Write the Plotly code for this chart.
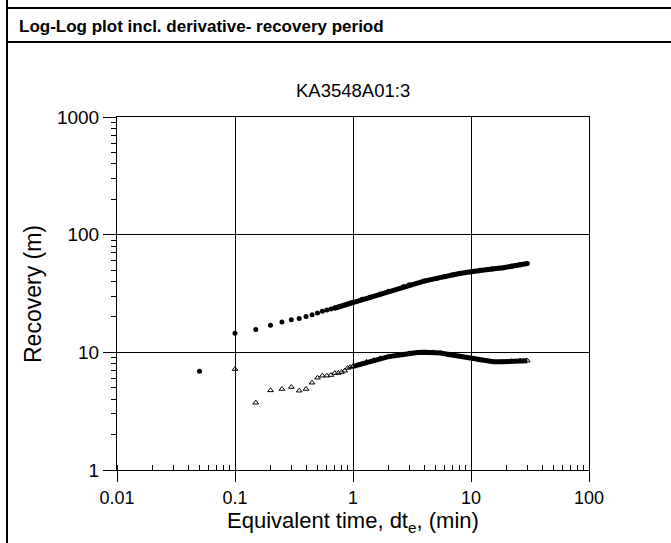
import plotly.graph_objects as go

# Recovery (filled circles) - sparse early part
rec_t_sparse = [0.05, 0.1, 0.15, 0.2, 0.25, 0.3, 0.35, 0.4, 0.45, 0.5, 0.55, 0.6, 0.65, 0.7]
rec_v_sparse = [6.9, 14.5, 15.6, 17.0, 18.1, 18.9, 19.4, 20.2, 20.9, 21.6, 22.3, 22.9, 23.3, 23.8]
# Recovery - dense later part
rec_t_dense = [0.7, 0.75, 0.8, 0.85, 0.9, 0.95, 1.0, 1.2, 1.4, 1.7, 2.0, 2.67, 3.0, 4.0, 5.1,
               6.0, 7.0, 8.0, 10.0, 12.0, 15.0, 18.8, 22.0, 26.0, 30.0]
rec_v_dense = [23.8, 24.3, 24.8, 25.3, 25.8, 26.2, 26.6, 28.2, 29.4, 31.3, 33.0, 36.1, 37.5, 40.3, 42.5,
               44.2, 45.6, 46.8, 48.4, 49.9, 51.0, 52.4, 54.0, 55.5, 56.8]

# Derivative (open triangles) - sparse early part
der_t_sparse = [0.1, 0.15, 0.2, 0.25, 0.3, 0.35, 0.4, 0.45, 0.5, 0.55, 0.6, 0.65, 0.7, 0.75,
                0.8, 0.85, 0.9, 0.95, 1.0]
der_v_sparse = [7.2, 3.73, 4.75, 4.88, 5.07, 4.72, 4.88, 5.52, 6.08, 6.33, 6.33, 6.41, 6.67, 6.67,
                6.8, 6.98, 7.36, 7.5, 7.6]
# Derivative - dense later part
der_t_dense = [1.0, 1.1, 1.2, 1.3, 1.5, 1.7, 2.0, 2.5, 3.0, 3.5, 4.0, 4.8, 5.5, 6.5, 8.0, 10.0,
               12.0, 15.4, 18.0, 22.0, 26.0, 30.0]
der_v_dense = [7.6, 7.8, 8.0, 8.3, 8.6, 8.9, 9.2, 9.5, 9.8, 9.95, 10.0, 10.0, 9.85, 9.6, 9.25, 8.9,
               8.55, 8.32, 8.3, 8.4, 8.5, 8.5]

x_tick_vals = [0.01, 0.1, 1, 10, 100]
x_tick_text = ["0.01", "0.1", "1", "10", "100"]
y_tick_vals = [1, 10, 100, 1000]
y_tick_text = ["1", "10", "100", "1000"]

FONT = "Liberation Sans, Arial, sans-serif"

fig = go.Figure()
fig.add_trace(go.Scatter(x=rec_t_sparse, y=rec_v_sparse, mode="markers",
                         marker=dict(symbol="circle", size=5, color="black"),
                         name="Recovery", showlegend=False))
fig.add_trace(go.Scatter(x=rec_t_dense, y=rec_v_dense, mode="lines+markers",
                         line=dict(color="black", width=5),
                         marker=dict(symbol="circle", size=5, color="black"),
                         name="Recovery", showlegend=False))
fig.add_trace(go.Scatter(x=der_t_sparse, y=der_v_sparse, mode="markers",
                         marker=dict(symbol="triangle-up-open", size=5, color="black",
                                     line=dict(width=1, color="black")),
                         name="Derivative", showlegend=False))
fig.add_trace(go.Scatter(x=der_t_dense, y=der_v_dense, mode="lines+markers",
                         line=dict(color="black", width=5),
                         marker=dict(symbol="triangle-up-open", size=5, color="black",
                                     line=dict(width=1, color="black")),
                         name="Derivative", showlegend=False))

L, R, T, B = 117, 589, 117, 470
W, H = 671, 543
pw, ph = R - L, B - T


def px(xp):
    return (xp - L) / pw


def py(yp):
    return (B - yp) / ph


fig.update_layout(
    width=W, height=H,
    margin=dict(l=L, r=W - R, t=T, b=H - B, pad=0),
    paper_bgcolor="white", plot_bgcolor="white",
    font=dict(family=FONT, color="black", size=19),
    showlegend=False,
)

fig.update_xaxes(
    type="log", range=[-2, 2],
    tickvals=x_tick_vals, ticktext=x_tick_text,
    showgrid=True, gridcolor="black", gridwidth=1,
    showline=True, linecolor="black", linewidth=1, mirror=True,
    ticks="outside", ticklen=11, tickcolor="black", tickwidth=1,
    tickfont=dict(size=18, family=FONT),
    minor=dict(ticks="inside", ticklen=5, tickcolor="black", dtick="D1", showgrid=False),
    zeroline=False,
)
fig.update_yaxes(
    type="log", range=[0, 3],
    tickvals=y_tick_vals, ticktext=y_tick_text,
    showgrid=True, gridcolor="black", gridwidth=1,
    showline=True, linecolor="black", linewidth=1, mirror=True,
    ticks="outside", ticklen=13, tickcolor="black", tickwidth=1,
    tickfont=dict(size=19, family=FONT),
    minor=dict(ticks="outside", ticklen=5, tickcolor="black", dtick="D1", showgrid=False),
    zeroline=False,
)

# page frame lines
frame = dict(color="black", width=2)
fig.add_shape(type="line", xref="paper", yref="paper", x0=px(7), x1=px(7), y0=py(0), y1=py(543), line=frame)
fig.add_shape(type="line", xref="paper", yref="paper", x0=px(7), x1=px(671), y0=py(8), y1=py(8), line=frame)
fig.add_shape(type="line", xref="paper", yref="paper", x0=px(7), x1=px(671), y0=py(42), y1=py(42), line=frame)

fig.add_annotation(text="<b>Log-Log plot incl. derivative- recovery period</b>",
                   xref="paper", yref="paper", x=px(17), y=py(26), xanchor="left", yanchor="middle",
                   showarrow=False, font=dict(size=17, family=FONT))
fig.add_annotation(text="KA3548A01:3", xref="paper", yref="paper", x=0.5, y=py(90),
                   xanchor="center", yanchor="middle", showarrow=False, font=dict(size=18.5, family=FONT))
fig.add_annotation(text="Recovery (m)", xref="paper", yref="paper", x=px(33), y=py(294), textangle=-90,
                   xanchor="center", yanchor="middle", showarrow=False, font=dict(size=23, family=FONT))
fig.add_annotation(text="Equivalent time, dt<sub>e</sub>, (min)", xref="paper", yref="paper", x=0.5, y=py(522),
                   xanchor="center", yanchor="middle", showarrow=False, font=dict(size=22, family=FONT))

fig.write_html("out.html")
